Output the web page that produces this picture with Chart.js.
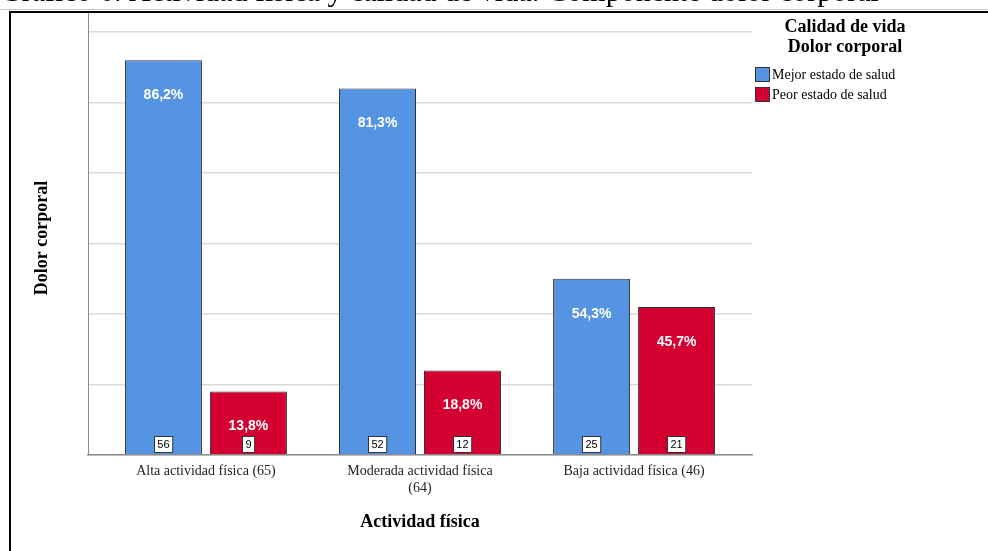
<!DOCTYPE html>
<html lang="es">
<head>
<meta charset="utf-8">
<script src="https://cdn.jsdelivr.net/npm/chart.js@4/dist/chart.umd.min.js"></script>
<style>
  html, body { margin: 0; padding: 0; background: #fff; }
  #wrap { width: 988px; height: 551px; position: relative; overflow: hidden; }
</style>
</head>
<body>
<div id="wrap"><canvas id="c" width="988" height="551"></canvas></div>
<script>
// Grupos de actividad física (n por grupo en la etiqueta)
const categories = [
  ["Alta actividad física (65)"],
  ["Moderada actividad física", "(64)"],
  ["Baja actividad física (46)"]
];
const seriesNames = ["Mejor estado de salud", "Peor estado de salud"];
// Recuentos por grupo
const mejorCounts = [56, 52, 25];
const peorCounts = [9, 12, 21];
// Porcentaje dentro de cada grupo
const mejorPct = [86.2, 81.3, 54.3];
const peorPct = [13.8, 18.8, 45.7];
const yTicks = [0, 10, 20, 30, 40, 50, 60];

const chartTitle = "Gráfico 6. Actividad física y calidad de vida: Componente dolor corporal";
const legendTitle = ["Calidad de vida", "Dolor corporal"];
const xTitle = "Actividad física";
const yTitle = "Dolor corporal";

const BLUE = "#5594e3";
const RED = "#d50032";
const SERIF = "'Liberation Serif', 'Times New Roman', serif";
const SANS = "'Liberation Sans', Arial, sans-serif";

const toPoints = arr => arr.map((v, i) => ({ x: i + 1, y: v }));

// Texts, frame, legend and value labels drawn on top of the chart
const decor = {
  id: "decor",
  beforeDraw(chart) {
    const ctx = chart.ctx;
    ctx.save();
    ctx.fillStyle = "#fff";
    ctx.fillRect(0, 0, chart.width, chart.height);
    ctx.restore();
  },
  afterDraw(chart) {
    const ctx = chart.ctx;
    const area = chart.chartArea;
    ctx.save();

    // heading, mostly above the visible edge
    ctx.fillStyle = "#000";
    ctx.font = "30px " + SERIF;
    ctx.textAlign = "left";
    ctx.textBaseline = "alphabetic";
    ctx.fillText(chartTitle, 0, 1);

    // thin grey rule under the heading
    ctx.strokeStyle = "#c8c8c8";
    ctx.lineWidth = 1;
    ctx.beginPath();
    ctx.moveTo(0, 9.5);
    ctx.lineTo(chart.width, 9.5);
    ctx.stroke();

    // outer frame
    ctx.strokeStyle = "#000";
    ctx.lineWidth = 2;
    ctx.strokeRect(10, 12, 1200, 800);

    // axis titles
    ctx.fillStyle = "#000";
    ctx.font = "bold 18px " + SERIF;
    ctx.textAlign = "center";
    ctx.textBaseline = "middle";
    ctx.fillText(xTitle, (area.left + area.right) / 2, 522);
    ctx.save();
    ctx.translate(42, 238);
    ctx.rotate(-Math.PI / 2);
    ctx.fillText(yTitle, 0, 0);
    ctx.restore();

    // legend
    ctx.font = "bold 18px " + SERIF;
    ctx.fillText(legendTitle[0], 845, 27);
    ctx.fillText(legendTitle[1], 845, 47);
    ctx.textAlign = "left";
    ctx.font = "14px " + SERIF;
    chart.data.datasets.forEach((ds, i) => {
      const y = 67 + i * 20;
      ctx.fillStyle = ds.backgroundColor;
      ctx.fillRect(755, y, 15, 15);
      ctx.strokeStyle = "#333";
      ctx.lineWidth = 1;
      ctx.strokeRect(755.5, y + 0.5, 14, 14);
      ctx.fillStyle = "#000";
      ctx.fillText(ds.label, 772, y + 8);
    });

    // value labels on bars
    const pcts = [mejorPct, peorPct];
    chart.data.datasets.forEach((ds, di) => {
      const meta = chart.getDatasetMeta(di);
      meta.data.forEach((bar, i) => {
        const x = bar.x;
        // percentage within group
        ctx.fillStyle = "#fff";
        ctx.font = "bold 14px " + SANS;
        ctx.textAlign = "center";
        ctx.textBaseline = "middle";
        const txt = pcts[di][i].toFixed(1).replace(".", ",") + "%";
        ctx.fillText(txt, x, bar.y + 35);
        // count box at the base
        ctx.font = "11px " + SANS;
        const cnt = String(ds.data[i].y);
        const w = Math.max(ctx.measureText(cnt).width + 6, 11);
        const bx = Math.round(x - w / 2) + 0.5;
        const by = area.bottom - 18.5;
        ctx.fillStyle = "#fff";
        ctx.fillRect(bx, by, w, 16);
        ctx.strokeStyle = "#333";
        ctx.strokeRect(bx, by, w, 16);
        ctx.fillStyle = "#000";
        ctx.fillText(cnt, x, by + 8.5);
      });
    });
    ctx.restore();
  }
};

new Chart(document.getElementById("c"), {
  type: "bar",
  data: {
    datasets: [
      { label: seriesNames[0], data: toPoints(mejorCounts), backgroundColor: BLUE, borderColor: "#333", borderWidth: 1 },
      { label: seriesNames[1], data: toPoints(peorCounts), backgroundColor: RED, borderColor: "#333", borderWidth: 1 }
    ]
  },
  options: {
    responsive: false,
    animation: false,
    devicePixelRatio: 1,
    layout: { padding: { left: 88, right: 236, top: 11, bottom: 0 } },
    categoryPercentage: 0.794,
    barPercentage: 0.906,
    plugins: { legend: { display: false }, tooltip: { enabled: false }, title: { display: false } },
    scales: {
      x: {
        type: "linear",
        offset: false,
        min: 0.449,
        max: 3.551,
        afterBuildTicks: s => { s.ticks = categories.map((c, i) => ({ value: i + 1 })); },
        afterFit: s => { s.height = 96; },
        grid: { display: false, drawTicks: false, offset: false },
        border: { display: true, color: "#8c8c8c", width: 1.5 },
        ticks: {
          padding: 8,
          autoSkip: false,
          maxRotation: 0,
          color: "#222",
          font: { family: SERIF, size: 14 },
          callback: v => categories[Math.round(v) - 1]
        }
      },
      y: {
        min: 0,
        max: 63,
        afterBuildTicks: s => { s.ticks = yTicks.map(v => ({ value: v })); },
        afterFit: s => { s.width = 0; },
        ticks: { display: false },
        grid: { color: "#dadada", lineWidth: 1.5, drawTicks: false },
        border: { display: true, color: "#8c8c8c", width: 1 }
      }
    }
  },
  plugins: [decor]
});
</script>
</body>
</html>
